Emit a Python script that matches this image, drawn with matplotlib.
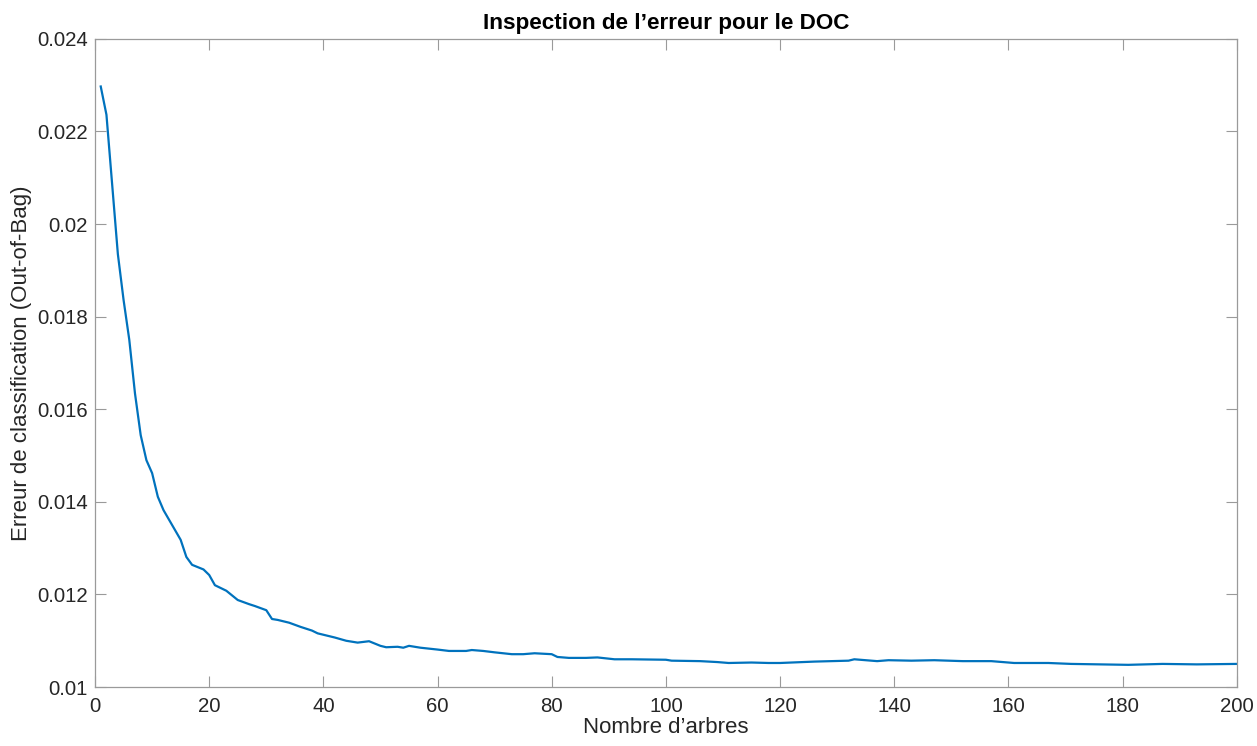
import numpy as np
import matplotlib
matplotlib.use("Agg")
import matplotlib.pyplot as plt

# ---------------------------------------------------------------------------
# Data (OOB classification error vs number of trees)
# ---------------------------------------------------------------------------
n_trees = [1, 2, 4, 5, 6, 7, 8, 9, 10, 11, 12, 15, 16, 17, 19, 20, 21, 23,
           25, 27, 28, 30, 31, 32, 34, 36, 38, 39, 42, 44, 46, 48, 50, 51,
           53, 54, 55, 57, 60, 62, 65, 66, 68, 70, 73, 75, 77, 80, 81, 83,
           86, 88, 91, 94, 100, 101, 106, 109, 111, 115, 118, 120, 124, 126,
           132, 133, 137, 139, 143, 147, 152, 157, 161, 167, 171, 176, 181,
           187, 193, 200]
oob_error = [0.02297, 0.02236, 0.01935, 0.01836, 0.01750, 0.01634, 0.01544,
             0.01490, 0.01462, 0.01411, 0.01382, 0.01318, 0.01281, 0.01264,
             0.01254, 0.01242, 0.01220, 0.01208, 0.01188, 0.01179, 0.01175,
             0.01166, 0.01147, 0.01145, 0.01139, 0.01130, 0.01122, 0.01116,
             0.01107, 0.01100, 0.01096, 0.01099, 0.01089, 0.01086, 0.01087,
             0.01085, 0.01089, 0.01085, 0.01081, 0.01078, 0.01078, 0.01080,
             0.01078, 0.01075, 0.01071, 0.01071, 0.01073, 0.01071, 0.01065,
             0.01063, 0.01063, 0.01064, 0.01060, 0.01060, 0.01059, 0.01057,
             0.01056, 0.01054, 0.01052, 0.01053, 0.01052, 0.01052, 0.01054,
             0.01055, 0.01057, 0.01060, 0.01056, 0.01058, 0.01057, 0.01058,
             0.01056, 0.01056, 0.01052, 0.01052, 0.01050, 0.01049, 0.01048,
             0.01050, 0.01049, 0.01050]

x_ticks = [0, 20, 40, 60, 80, 100, 120, 140, 160, 180, 200]
y_ticks = [0.01, 0.012, 0.014, 0.016, 0.018, 0.02, 0.022, 0.024]
y_tick_labels = ["0.01", "0.012", "0.014", "0.016", "0.018", "0.02", "0.022", "0.024"]

# ---------------------------------------------------------------------------
# Plot (MATLAB-ish look)
# ---------------------------------------------------------------------------
plt.rcParams["font.family"] = ["Liberation Sans", "DejaVu Sans"]
TEXT_COLOR = "#262626"
AXIS_COLOR = "#9a9a9a"

fig = plt.figure(figsize=(12.57, 7.46), dpi=100)
ax = fig.add_axes([0.0756, 0.079, 0.9083, 0.869])

ax.plot(n_trees, oob_error, color="#0072BD", linewidth=1.6)

ax.set_xlim(0, 200)
ax.set_ylim(0.01, 0.024)
ax.set_xticks(x_ticks)
ax.set_yticks(y_ticks)
ax.set_yticklabels(y_tick_labels)

ax.tick_params(direction="in", length=8, width=0.8, color=AXIS_COLOR,
               labelsize=14.7, labelcolor=TEXT_COLOR, top=True, right=True)
ax.tick_params(axis="x", pad=7)
ax.tick_params(axis="y", pad=5)
for side in ax.spines.values():
    side.set_color(AXIS_COLOR)
    side.set_linewidth(0.9)

ax.set_xlabel("Nombre d\u2019arbres", fontsize=16, color=TEXT_COLOR, labelpad=1)
ax.set_ylabel("Erreur de classification (Out-of-Bag)", fontsize=16,
              color=TEXT_COLOR, labelpad=4)
ax.set_title("Inspection de l\u2019erreur pour le DOC", fontsize=16.2,
             fontweight="bold", color="black", pad=7)

fig.savefig("out.png", dpi=100)
